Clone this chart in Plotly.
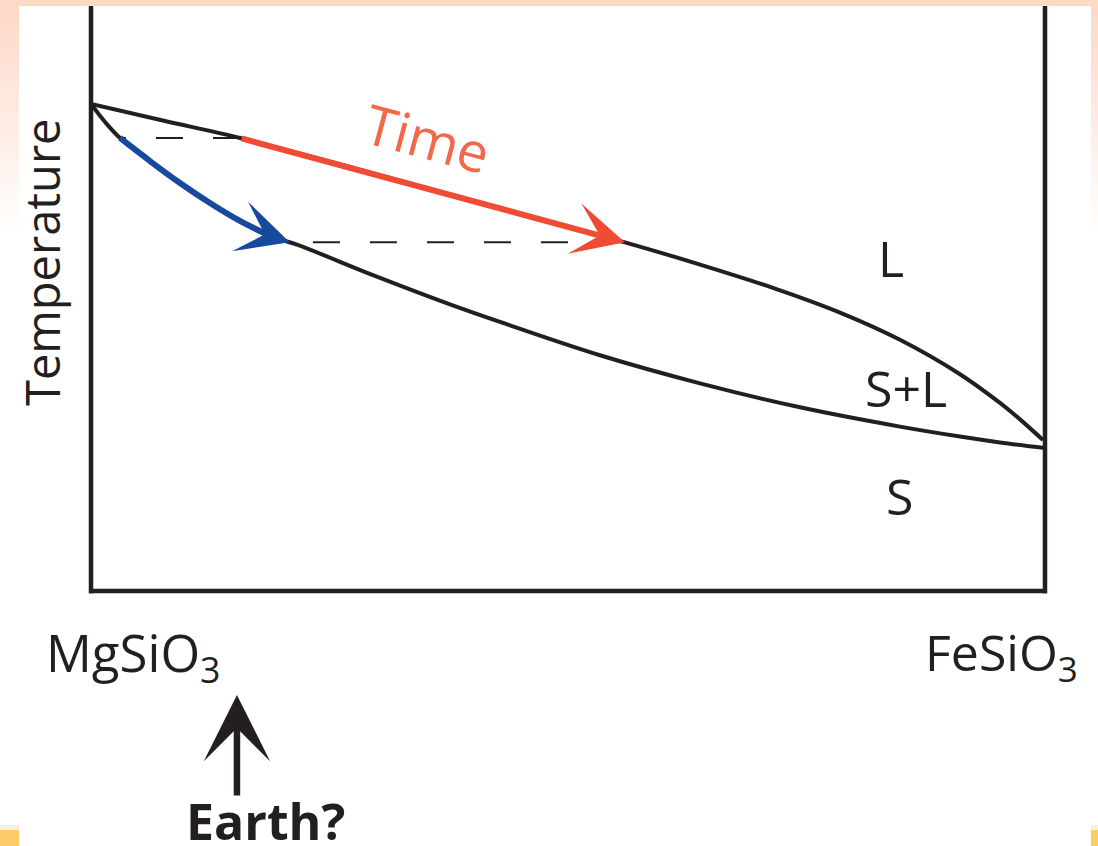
import numpy as np
import plotly.graph_objects as go

# Binary phase diagram MgSiO3 - FeSiO3
# composition: mole fraction of FeSiO3 (0 = MgSiO3, 1 = FeSiO3); temperature in arbitrary units
liquidus_x = [0.0, 0.0776, 0.1562, 0.2558, 0.3553, 0.4549, 0.5597, 0.6384, 0.7170,
              0.7851, 0.8480, 0.9109, 0.9528, 0.9738, 0.9979]
liquidus_t = [83.25, 80.34, 77.44, 73.16, 68.70, 64.25, 59.60, 55.80, 51.70,
              47.60, 42.95, 37.06, 32.15, 29.34, 25.81]

solidus_x = [0.0, 0.0147, 0.0304, 0.0618, 0.0933, 0.1247, 0.1562, 0.1876, 0.2159,
             0.2956, 0.3763, 0.4287, 0.5335, 0.6384, 0.7432, 0.8480, 0.9109, 0.9528, 1.0]
solidus_t = [83.25, 80.17, 77.44, 73.50, 69.74, 66.32, 63.25, 60.68, 59.20,
             54.00, 49.00, 46.00, 40.30, 35.50, 31.40, 28.10, 26.40, 25.40, 24.44]

# isotherms (tie lines) bounding the crystallisation path
tie_t = [77.44, 59.60]

# field labels
field_labels = ["L", "S+L", "S"]
field_x = [0.8386, 0.8543, 0.8480]
field_t = [56.9, 34.7, 16.2]

end_members = ["MgSiO<sub>3</sub>", "FeSiO<sub>3</sub>"]
earth_x = 0.153

INK = "#231F20"
RED = "#EF4B35"
RED_TXT = "#F2684A"
BLUE = "#17499C"
FONT = "Open Sans"


def boundary_x(xs, ts, t):
    # composition of a boundary curve at temperature t (temperature falls along the curve)
    return float(np.interp(t, ts[::-1], xs[::-1]))


fig = go.Figure()

# liquidus and solidus
curve = dict(color=INK, width=4, shape="spline", smoothing=1.0)
fig.add_trace(go.Scatter(x=liquidus_x, y=liquidus_t, mode="lines", line=curve, hoverinfo="skip"))
fig.add_trace(go.Scatter(x=solidus_x, y=solidus_t, mode="lines", line=curve, hoverinfo="skip"))

# dashed tie lines, drawn from the liquidus towards the solidus
tie_ends = []
for t in tie_t:
    xs = boundary_x(solidus_x, solidus_t, t)
    xl = boundary_x(liquidus_x, liquidus_t, t)
    tie_ends.append((xs, xl))
    fig.add_trace(go.Scatter(x=[xl, xs], y=[t, t], mode="lines",
                             line=dict(color=INK, width=2, dash="27px,30px"), hoverinfo="skip"))

# solid composition path (blue) along the solidus between the two isotherms
(xs_hi, xl_hi), (xs_lo, xl_lo) = tie_ends
sol_path = [(x, t) for x, t in zip(solidus_x, solidus_t) if tie_t[1] < t <= tie_t[0]]
fig.add_trace(go.Scatter(x=[p[0] for p in sol_path], y=[p[1] for p in sol_path],
                         mode="lines", line=dict(color=BLUE, width=6, shape="spline", smoothing=0.8),
                         hoverinfo="skip"))

annotations = []
# blue arrow head at the lower isotherm on the solidus
annotations.append(dict(x=xs_lo, y=tie_t[1], xref="x", yref="y",
                        ax=sol_path[-1][0], ay=sol_path[-1][1], axref="x", ayref="y",
                        showarrow=True, arrowhead=3, arrowsize=1.45, arrowwidth=6,
                        arrowcolor=BLUE, text=""))
# red arrow along the liquidus between the two isotherms
annotations.append(dict(x=xl_lo, y=tie_t[1], xref="x", yref="y",
                        ax=xl_hi, ay=tie_t[0], axref="x", ayref="y",
                        showarrow=True, arrowhead=3, arrowsize=1.45, arrowwidth=6,
                        arrowcolor=RED, text=""))
annotations.append(dict(x=0.3533, y=77.6, xref="x", yref="y", text="Time",
                        showarrow=False, textangle=15, xanchor="center", yanchor="middle",
                        font=dict(family=FONT, size=55, color=RED_TXT)))

for lab, x, t in zip(field_labels, field_x, field_t):
    annotations.append(dict(x=x, y=t, xref="x", yref="y", text=lab, showarrow=False,
                            xanchor="center", yanchor="middle",
                            font=dict(family=FONT, size=50, color=INK)))

# axis title and end-member labels
annotations.append(dict(x=-0.0514, y=0.5624, xref="paper", yref="paper", text="Temperature",
                        showarrow=False, textangle=-90, xanchor="center", yanchor="middle",
                        font=dict(family=FONT, size=47, color=INK)))
annotations.append(dict(x=0.0440, y=-0.110, xref="paper", yref="paper", text=end_members[0],
                        showarrow=False, xanchor="center", yanchor="middle",
                        font=dict(family=FONT, size=51, color=INK)))
annotations.append(dict(x=0.954, y=-0.110, xref="paper", yref="paper", text=end_members[1],
                        showarrow=False, xanchor="center", yanchor="middle",
                        font=dict(family=FONT, size=50, color=INK)))

# Earth marker below the axis
annotations.append(dict(x=earth_x, y=-0.1778, xref="x", yref="paper", ax=0, ay=102,
                        showarrow=True, arrowhead=3, arrowsize=1.7, arrowwidth=6.5,
                        arrowcolor=INK, text=""))
annotations.append(dict(x=earth_x + 0.03, y=-0.394, xref="x", yref="paper", text="<b>Earth?</b>",
                        showarrow=False, xanchor="center", yanchor="middle",
                        font=dict(family=FONT, size=50, color=INK)))

# page decoration and frame
W, H = 1098, 846
X0, X1, Y0, Y1 = 91, 1045, 6, 591


def px(xp):
    return (xp - X0) / (X1 - X0)


def py(yp):
    return (Y1 - yp) / (Y1 - Y0)


PEACH = (253, 217, 200)
shapes = []
shapes.append(dict(type="rect", xref="paper", yref="paper", x0=px(0), x1=px(W), y0=py(0), y1=py(6),
                   fillcolor="rgb(%d,%d,%d)" % PEACH, line=dict(width=0), layer="below"))
steps = 28
for i in range(steps):
    f = i / steps
    c = tuple(int(round(v + (255 - v) * f)) for v in PEACH)
    ya, yb = 6 + i * 8, 6 + (i + 1) * 8
    for xa, xb in ((0, 19), (1091, W)):
        shapes.append(dict(type="rect", xref="paper", yref="paper", x0=px(xa), x1=px(xb),
                           y0=py(ya), y1=py(yb), fillcolor="rgb(%d,%d,%d)" % c,
                           line=dict(width=0), layer="below"))
for xa, xb in ((0, 19), (1091, W)):
    shapes.append(dict(type="rect", xref="paper", yref="paper", x0=px(xa), x1=px(xb),
                       y0=py(825), y1=py(830), fillcolor="#FFF0D2", line=dict(width=0), layer="below"))
    shapes.append(dict(type="rect", xref="paper", yref="paper", x0=px(xa), x1=px(xb),
                       y0=py(830), y1=py(H), fillcolor="#FFCB69", line=dict(width=0), layer="below"))

frame = dict(color=INK, width=4.5)
shapes.append(dict(type="line", xref="paper", yref="paper", x0=0, x1=0, y0=-0.004, y1=1, line=frame))
shapes.append(dict(type="line", xref="paper", yref="paper", x0=-0.002, x1=1.002, y0=0, y1=0, line=frame))
shapes.append(dict(type="line", xref="paper", yref="paper", x0=1, x1=1, y0=-0.004, y1=1, line=frame))

fig.update_layout(
    width=W, height=H,
    margin=dict(l=X0, r=W - X1, t=Y0, b=H - Y1, pad=0),
    paper_bgcolor="white", plot_bgcolor="rgba(0,0,0,0)",
    showlegend=False,
    xaxis=dict(range=[0, 1], showgrid=False, zeroline=False, showticklabels=False,
               ticks="", showline=False, fixedrange=True),
    yaxis=dict(range=[0, 100], showgrid=False, zeroline=False, showticklabels=False,
               ticks="", showline=False, fixedrange=True),
    annotations=annotations,
    shapes=shapes,
)

fig.write_html("out.html")
